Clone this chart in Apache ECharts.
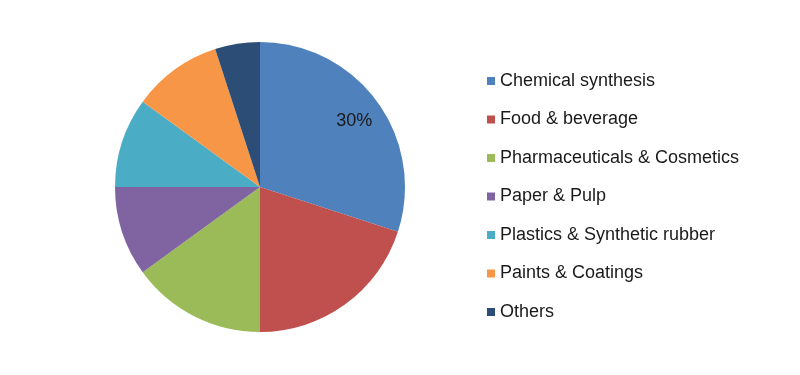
<!DOCTYPE html>
<html><head><meta charset="utf-8">
<script src="https://cdn.jsdelivr.net/npm/echarts@6/dist/echarts.min.js"></script>
<style>html,body{margin:0;padding:0;background:#fff}#c{width:800px;height:375px}</style>
</head><body><div id="c"></div>
<script>
const categories = ["Chemical synthesis","Food & beverage","Pharmaceuticals & Cosmetics","Paper & Pulp","Plastics & Synthetic rubber","Paints & Coatings","Others"];
const shares = [30,20,15,10,10,10,5];
const colors = ["#4F81BD","#C0504D","#9BBB59","#8064A2","#4BACC6","#F79646","#2C4D75"];
const labeled = ["Chemical synthesis"];

const chart = echarts.init(document.getElementById('c'), null, {renderer:'canvas'});
const data = categories.map((n,i)=>({name:n,value:shares[i],itemStyle:{color:colors[i]}}));
chart.setOption({
  animation:false,
  color:colors,
  legend:{
    orient:'vertical', left:487, top:72, padding:0,
    itemWidth:8, itemHeight:8, itemGap:20.5,
    icon:'rect',
    textStyle:{fontFamily:'Liberation Sans, Arial, sans-serif', fontSize:18, color:'#1a1a1a', padding:[0,0,0,0]},
    data:categories
  },
  series:[
    {type:'pie', center:[260,187], radius:[0,145], startAngle:90, clockwise:true,
     label:{show:false}, labelLine:{show:false}, silent:true, data:data},
    {type:'pie', center:[260,190], radius:[82,145], startAngle:90, clockwise:true, silent:true,
     legendHoverLink:false,
     labelLine:{show:false},
     data:categories.map((n,i)=>({name:n+' ',value:shares[i],itemStyle:{color:'rgba(0,0,0,0)'},
        label:{show:labeled.includes(n), position:'inside', formatter:shares[i]+'%',
          fontFamily:'Liberation Sans, Arial, sans-serif', fontSize:18, color:'#1a1a1a'}}))}
  ]
});
</script></body></html>
